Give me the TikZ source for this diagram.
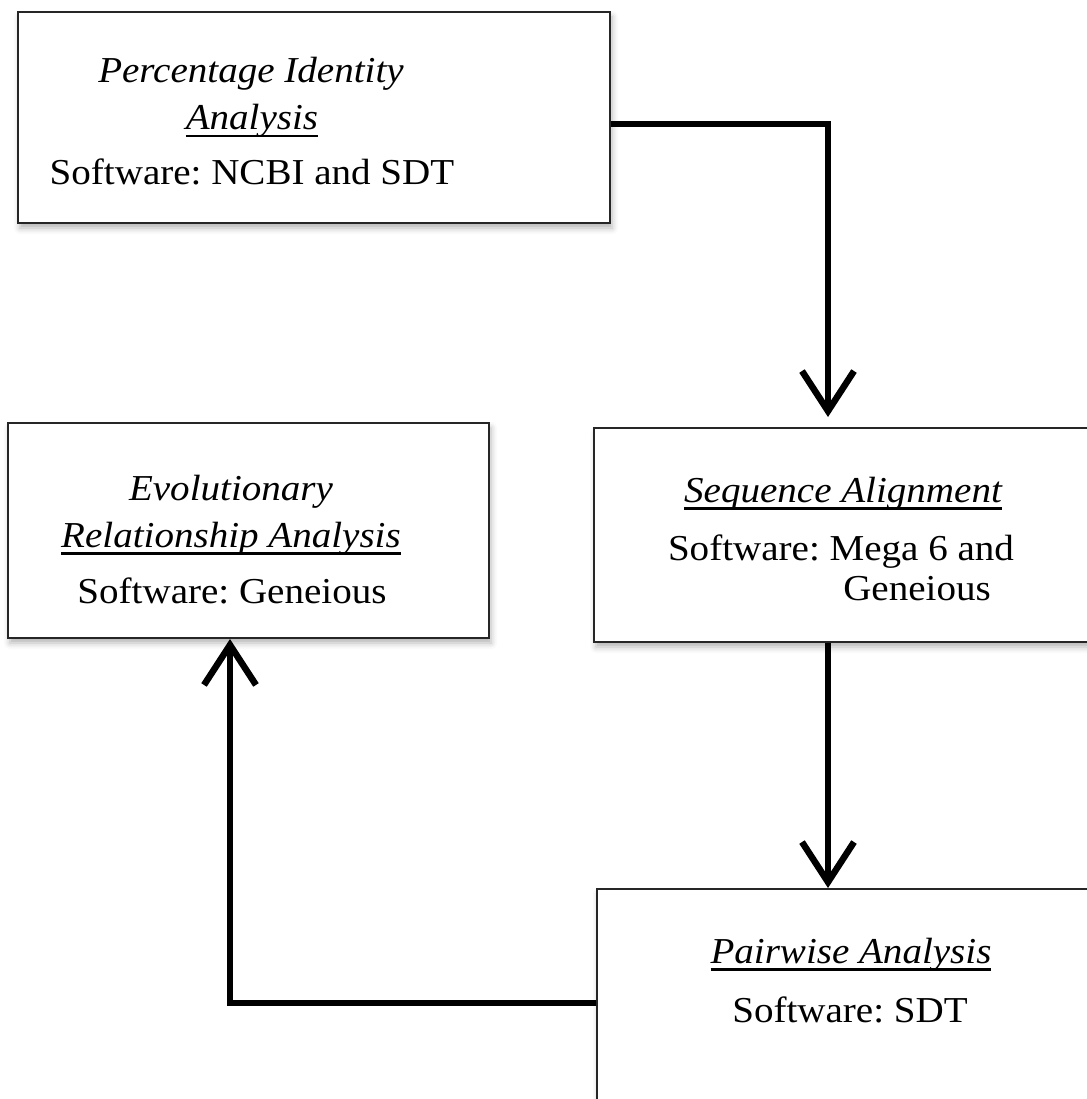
\documentclass[tikz,border=0pt]{standalone}
\usepackage{fontspec}
\setmainfont[FakeStretch=1.07]{Liberation Serif}
\usetikzlibrary{arrows.meta,shadows.blur}
\frenchspacing
% underline drawn at a fixed depth below the baseline
\newsavebox\ulbox
\newcommand\ulbar[1]{\sbox\ulbox{#1}\rlap{\rule[-7.5pt]{\wd\ulbox}{2.2pt}}\usebox\ulbox}
\begin{document}
\begin{tikzpicture}[x=1pt,y=-1pt,
  font=\fontsize{36.5}{40}\selectfont,
  stepbox/.style={draw=black!85, line width=2pt, fill=white, rectangle, inner sep=0pt,
    blur shadow={shadow xshift=2pt, shadow yshift=-5pt, shadow blur radius=6pt, shadow opacity=30}},
  txt/.style={anchor=base, inner sep=0pt},
  ttl/.style={txt, font=\fontsize{36.5}{40}\selectfont\itshape},
  flow/.style={line width=6.5pt, -{Straight Barb[length=40pt,width=52pt]}}
]
\useasboundingbox (0,0) rectangle (1086,1099);

% boxes (the two on the right run past the page edge)
\node[stepbox, minimum width=592pt, minimum height=211pt] (b1) at (314,117.5) {};
\node[stepbox, minimum width=540pt, minimum height=214pt] (b2) at (864,535) {};
\node[stepbox, minimum width=481pt, minimum height=215pt] (b3) at (248.5,530.5) {};
\node[stepbox, minimum width=540pt, minimum height=260pt] (b4) at (867,1019) {};

% texts
\node[ttl] (t1a) at (251,83) {Percentage Identity};
\node[ttl] (t1b) at (252,130) {\ulbar{Analysis}};
\node[txt] (t1c) at (252,185) {Software: NCBI and SDT};

\node[ttl] (t2a) at (843,502) {\ulbar{Sequence Alignment}};
\node[txt] (t2b) at (841,560) {Software: Mega 6 and};
\node[txt] (t2c) at (917,600) {Geneious};

\node[ttl] (t3a) at (231,500) {Evolutionary};
\node[ttl] (t3b) at (231,547) {\ulbar{Relationship Analysis}};
\node[txt] (t3c) at (232,603) {Software: Geneious};

\node[ttl] (t4a) at (851,963) {\ulbar{Pairwise Analysis}};
\node[txt] (t4b) at (850,1022) {Software: SDT};

% connectors
\coordinate (j1) at (828,124);
\coordinate (j3) at (230,1003);
\draw[flow, shorten >=10pt] (b1.east |- j1) -- (j1) -- (j1 |- b2.north);
\draw[flow] (j1 |- b2.south) -- (j1 |- b4.north);
\draw[flow] (b4.west |- j3) -- (j3) -- (j3 |- b3.south);
\end{tikzpicture}
\end{document}
